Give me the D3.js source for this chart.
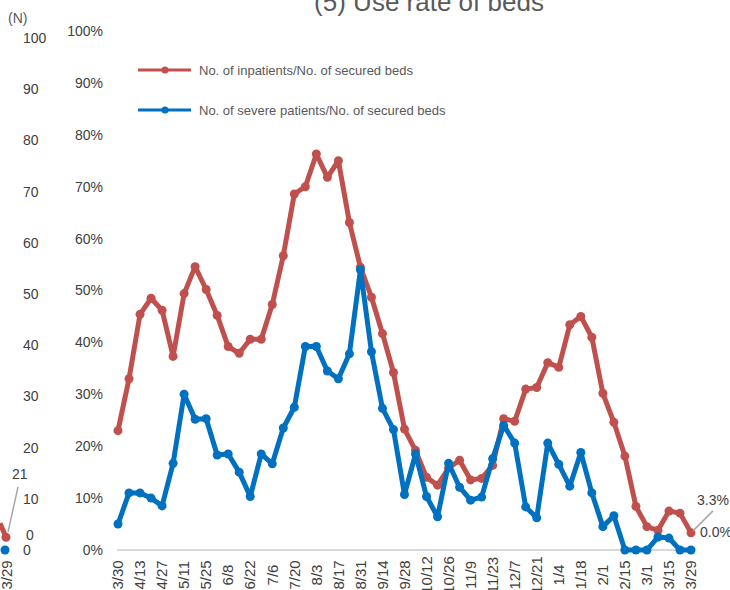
<!DOCTYPE html>
<html>
<head>
<meta charset="utf-8">
<script src="https://cdn.jsdelivr.net/npm/d3@7"></script>
<style>
  body { margin: 0; background: #fff; }
  svg { font-family: "Liberation Sans", Arial, sans-serif; }
  .tick { fill: #404040; font-size: 14px; }
  .legend { fill: #595959; font-size: 13px; }
</style>
</head>
<body>
<div id="chart"></div>
<script>
var weeks = ["3/30","4/6","4/13","4/20","4/27","5/4","5/11","5/18","5/25","6/1",
  "6/8","6/15","6/22","6/29","7/6","7/13","7/20","7/27","8/3","8/10",
  "8/17","8/24","8/31","9/7","9/14","9/21","9/28","10/5","10/12","10/19",
  "10/26","11/2","11/9","11/16","11/23","11/30","12/7","12/14","12/21","12/28",
  "1/4","1/11","1/18","1/25","2/1","2/8","2/15","2/22","3/1","3/8",
  "3/15","3/22","3/29"];

// No. of inpatients / No. of secured beds (%)
var inpatients = [23.0,33.0,45.4,48.5,46.2,37.3,49.4,54.6,50.2,45.2,
  39.2,37.9,40.6,40.6,47.3,56.7,68.6,70.0,76.3,71.8,
  75.0,63.1,54.5,48.7,41.7,34.2,23.3,19.2,14.0,12.5,
  15.8,17.3,13.5,13.8,16.3,25.3,24.8,31.0,31.3,36.1,
  35.2,43.4,45.0,41.0,30.2,24.6,18.1,8.4,4.5,3.8,
  7.5,7.1,3.3];

// No. of severe patients / No. of secured beds (%)
var severe = [5.0,11.0,11.0,10.0,8.5,16.7,30.0,25.2,25.3,18.3,
  18.5,15.0,10.3,18.5,16.6,23.5,27.5,39.2,39.2,34.5,
  33.0,37.8,54.0,38.2,27.3,23.2,10.7,18.5,10.3,6.4,
  16.7,12.1,9.6,10.2,17.6,24.0,20.6,8.3,6.2,20.6,
  16.5,12.3,18.8,11.0,4.5,6.6,0,0,0,2.5,
  2.3,0,0];

var pctTicks = [0,10,20,30,40,50,60,70,80,90,100];
var seriesNames = ["No. of inpatients/No. of secured beds", "No. of severe patients/No. of secured beds"];
var seriesColors = ["#C0504D", "#0070C0"];
var endLabels = ["3.3%", "0.0%"];

// cut-off neighbour chart on the left
var nTicks = [10,20,30,40,50,60,70,80,90,100];
var nEnd = [2.5, 0];

var width = 730, height = 590;
var svg = d3.select("#chart").append("svg")
  .attr("width", width).attr("height", height);

var x = d3.scalePoint().domain(weeks).range([118, 691]);
var y = d3.scaleLinear().domain([0, 100]).range([550, 31]);
var yN = d3.scaleLinear().domain([0, 100]).range([550, 38]);

// title (cut at top)
svg.append("text")
  .attr("x", 429).attr("y", 11)
  .attr("text-anchor", "middle")
  .style("font-size", "26px").style("fill", "#595959")
  .text("(5) Use rate of beds");

// baseline
svg.append("line")
  .attr("x1", x(weeks[0]) - 1).attr("x2", x(weeks[weeks.length - 1]) + 1)
  .attr("y1", y(0)).attr("y2", y(0))
  .style("stroke", "#D9D9D9").style("stroke-width", 2);

// y tick labels
svg.selectAll(".ytick").data(pctTicks).enter().append("text")
  .attr("class", "tick")
  .attr("x", 103).attr("y", function(d) { return y(d); })
  .attr("dy", "0.35em").attr("text-anchor", "end")
  .text(function(d) { return d + "%"; });

// x tick labels, every other week
svg.selectAll(".xtick").data(weeks.filter(function(d, i) { return i % 2 == 0; }))
  .enter().append("text")
  .attr("class", "tick")
  .style("font-size", "15px")
  .attr("text-anchor", "middle")
  .attr("dy", "0.35em")
  .attr("transform", function(d) { return "translate(" + x(d) + ",575) rotate(-90)"; })
  .text(function(d) { return d; });

var line = d3.line()
  .x(function(d, i) { return x(weeks[i]); })
  .y(function(d) { return y(d); });

[inpatients, severe].forEach(function(vals, k) {
  svg.append("path")
    .attr("d", line(vals))
    .style("fill", "none")
    .style("stroke", seriesColors[k])
    .style("stroke-width", 5)
    .style("stroke-linejoin", "round");
  svg.selectAll(".dot" + k).data(vals).enter().append("circle")
    .attr("cx", function(d, i) { return x(weeks[i]); })
    .attr("cy", function(d) { return y(d); })
    .attr("r", 4.5)
    .style("fill", seriesColors[k]);
});

// end labels
var last = weeks[weeks.length - 1];
svg.append("line")
  .attr("x1", x(last) + 2).attr("y1", y(inpatients[52]) - 2)
  .attr("x2", x(last) + 22).attr("y2", y(inpatients[52]) - 22)
  .style("stroke", "#A6A6A6").style("stroke-width", 1.5);
svg.append("text").attr("class", "tick")
  .attr("x", 697).attr("y", 505).text(endLabels[0]);
svg.append("text").attr("class", "tick")
  .attr("x", 700).attr("y", 537).text(endLabels[1]);

// legend
seriesNames.forEach(function(name, k) {
  var ly = 70 + k * 40;
  svg.append("line")
    .attr("x1", 138).attr("x2", 191).attr("y1", ly).attr("y2", ly)
    .style("stroke", seriesColors[k]).style("stroke-width", 3);
  svg.append("circle").attr("cx", 165).attr("cy", ly).attr("r", 3.5)
    .style("fill", seriesColors[k]);
  svg.append("text").attr("class", "legend")
    .attr("x", 199).attr("y", ly).attr("dy", "0.35em")
    .text(name);
});

// neighbour chart remnants
svg.append("text").attr("class", "tick")
  .attr("x", 8).attr("y", 23).style("fill", "#595959").text("(N)");
svg.selectAll(".ntick").data(nTicks).enter().append("text")
  .attr("class", "tick")
  .attr("x", 23).attr("y", function(d) { return yN(d); })
  .attr("dy", "0.35em")
  .text(function(d) { return d; });
svg.append("line")
  .attr("x1", 0).attr("y1", yN(nEnd[0]) - 14)
  .attr("x2", 6).attr("y2", yN(nEnd[0]))
  .style("stroke", seriesColors[0]).style("stroke-width", 5);
svg.append("line")
  .attr("x1", 8).attr("y1", yN(nEnd[0]) - 5)
  .attr("x2", 18).attr("y2", 487)
  .style("stroke", "#A6A6A6").style("stroke-width", 1.5);
svg.append("circle").attr("cx", 6).attr("cy", yN(nEnd[0])).attr("r", 4.5)
  .style("fill", seriesColors[0]);
svg.append("circle").attr("cx", 5).attr("cy", yN(nEnd[1])).attr("r", 4.5)
  .style("fill", seriesColors[1]);
svg.append("text").attr("class", "tick").attr("x", 12).attr("y", 479).text("21");
svg.append("text").attr("class", "tick").attr("x", 26).attr("y", 540).text("0");
svg.append("text").attr("class", "tick").attr("x", 23).attr("y", 555).text("0");
svg.append("text").attr("class", "tick")
  .style("font-size", "15px")
  .attr("text-anchor", "middle").attr("dy", "0.35em")
  .attr("transform", "translate(7,575) rotate(-90)")
  .text("3/29");
</script>
</body>
</html>
